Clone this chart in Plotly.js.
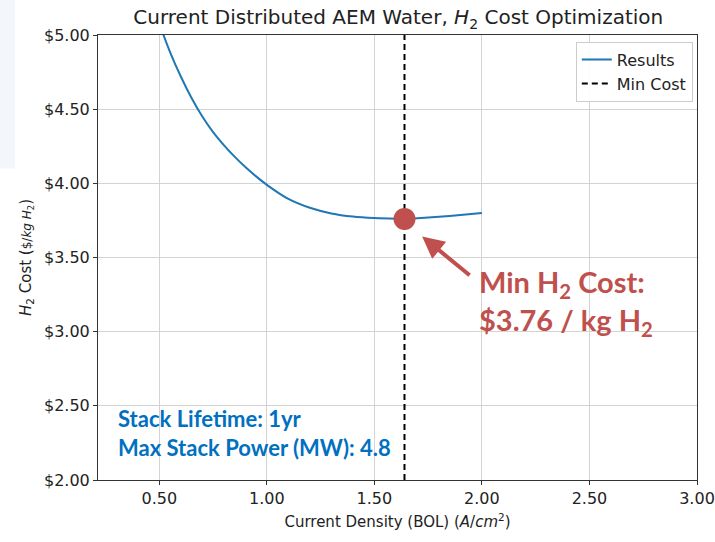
<!DOCTYPE html>
<html>
<head>
<meta charset="utf-8">
<script src="https://cdn.plot.ly/plotly-3.0.1.min.js"></script>
<style>html,body{margin:0;padding:0;background:#fff;}#chart{width:715px;height:542px;}</style>
</head>
<body>
<div id="chart"></div>
<script>
// Current density (A/cm^2) and H2 cost ($/kg)
const currentDensity = [0.45, 0.50, 0.55, 0.60, 0.65, 0.70, 0.75, 0.80, 0.85, 0.90, 0.95, 1.00, 1.10, 1.20, 1.30, 1.40, 1.50, 1.60, 1.64, 1.70, 1.80, 1.90, 2.00];
const h2Cost = [5.31, 5.08, 4.885, 4.72, 4.575, 4.45, 4.345, 4.258, 4.18, 4.11, 4.047, 3.99, 3.895, 3.835, 3.797, 3.776, 3.766, 3.762, 3.762, 3.765, 3.774, 3.786, 3.80];
const minCostX = [1.64, 1.64];
const minCostY = [2.0, 5.0];
const minPointX = [1.64];
const minPointY = [3.76];
const yTickVals = [2.0, 2.5, 3.0, 3.5, 4.0, 4.5, 5.0];
const yTickText = ['$2.00', '$2.50', '$3.00', '$3.50', '$4.00', '$4.50', '$5.00'];
const xTickVals = [0.5, 1.0, 1.5, 2.0, 2.5, 3.0];
const xTickText = ['0.50', '1.00', '1.50', '2.00', '2.50', '3.00'];

const traces = [
  {x: currentDensity, y: h2Cost, type: 'scatter', mode: 'lines', name: 'Results',
   line: {color: '#1f77b4', width: 2, shape: 'spline', smoothing: 0.6}},
  {x: minCostX, y: minCostY, type: 'scatter', mode: 'lines', name: 'Min Cost',
   line: {color: '#000000', width: 2, dash: '6px,4px'}},
  {x: minPointX, y: minPointY, type: 'scatter', mode: 'markers', showlegend: false,
   marker: {color: '#c0504d', size: 22}}
];

const axisCommon = {
  showline: true, mirror: true, linecolor: '#333', linewidth: 1,
  ticks: 'outside', ticklen: 4, tickcolor: '#333',
  showgrid: true, gridcolor: '#d3d3d3', gridwidth: 1, zeroline: false,
  tickfont: {family: 'DejaVu Sans', size: 16, color: '#222'}
};

const layout = {
  width: 715, height: 542,
  margin: {l: 98, r: 18, t: 35, b: 62},
  paper_bgcolor: '#fff', plot_bgcolor: '#fff',
  title: {text: 'Current Distributed AEM Water, <i>H</i><sub>2</sub> Cost Optimization',
          font: {family: 'DejaVu Sans', size: 20, color: '#222'}, x: 0.557, xanchor: 'center', y: 0.968, yanchor: 'middle'},
  xaxis: Object.assign({}, axisCommon, {
    range: [0.215, 3.0], tickvals: xTickVals, ticktext: xTickText,
    title: {text: 'Current Density (BOL) (<i>A</i>/<i>cm</i><sup>2</sup>)', font: {family: 'DejaVu Sans', size: 15, color: '#222'}, standoff: 9}
  }),
  yaxis: Object.assign({}, axisCommon, {
    range: [2.0, 5.0], tickvals: yTickVals, ticktext: yTickText,
    title: {text: '<i>H</i><sub>2</sub> Cost (<span style="font-size:12px">$/<i>kg H</i><sub>2</sub></span>)', font: {family: 'DejaVu Sans', size: 15, color: '#222'}, standoff: 8}
  }),
  legend: {x: 0.993, y: 0.985, xanchor: 'right', yanchor: 'top', bgcolor: 'rgba(255,255,255,0.9)',
           bordercolor: '#cccccc', borderwidth: 1, font: {family: 'DejaVu Sans', size: 16, color: '#222'}},
  shapes: [
    {type: 'rect', xref: 'paper', yref: 'paper', x0: -0.1636, x1: -0.1386, y0: 0.70, y1: 1.0787,
     fillcolor: '#f3f7fc', line: {width: 0}, layer: 'below'}
  ],
  annotations: [
    {x: 1.722, y: 3.642, xref: 'x', yref: 'y', ax: 49, ay: 40, text: '', showarrow: true,
     arrowhead: 2, arrowsize: 1.1, arrowwidth: 4, arrowcolor: '#c0504d'},
    {x: 0.632, y: 0.40, xref: 'paper', yref: 'paper', xanchor: 'left', yanchor: 'middle', align: 'left',
     text: '<b>Min H<sub>2</sub> Cost:<br>$3.76 / kg H<sub>2</sub></b>', showarrow: false,
     font: {family: 'Lato', size: 29, color: '#c0504d'}},
    {x: 0.03, y: 0.105, xref: 'paper', yref: 'paper', xanchor: 'left', yanchor: 'middle', align: 'left',
     text: '<b>Stack Lifetime: 1yr<br>Max Stack Power (MW): 4.8</b>', showarrow: false,
     font: {family: 'Lato', size: 22, color: '#0070c0'}}
  ]
};

Plotly.newPlot('chart', traces, layout, {displayModeBar: false, staticPlot: true});
</script>
</body>
</html>
